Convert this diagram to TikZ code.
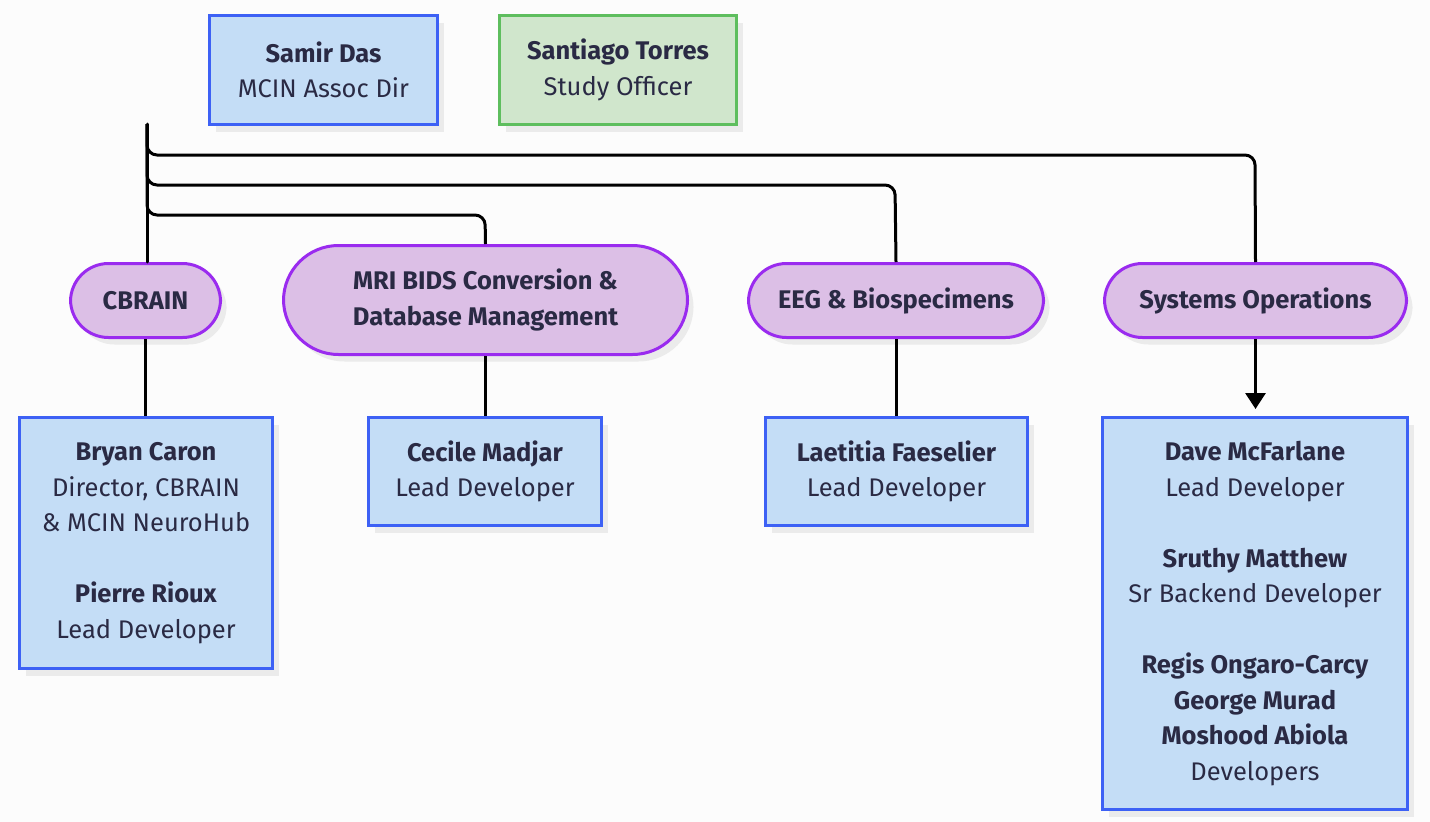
\documentclass[tikz,border=0pt]{standalone}
\usepackage{fontspec}
\setmainfont{Fira Sans}
\usetikzlibrary{shadows,arrows.meta}
\definecolor{bg}{HTML}{FCFCFC}
\definecolor{bluefill}{HTML}{C4DDF6}
\definecolor{bluedraw}{HTML}{3D61F5}
\definecolor{greenfill}{HTML}{D0E6CC}
\definecolor{greendraw}{HTML}{5EBE5E}
\definecolor{purpfill}{HTML}{DCBFE6}
\definecolor{purpdraw}{HTML}{9A2BEF}
\definecolor{txt}{HTML}{2A2A44}
\definecolor{shad}{HTML}{EBEBEB}
\tikzset{
  shadowed/.style={drop shadow={shadow xshift=6pt, shadow yshift=-7pt, fill=shad, opacity=1}},
  box/.style={draw=bluedraw, fill=bluefill, line width=3pt, shadowed, inner sep=0pt,
    align=center, text=txt, font=\fontsize{25.5}{35.5}\selectfont},
  gbox/.style={box, draw=greendraw, fill=greenfill},
  pill/.style={draw=purpdraw, fill=purpfill, line width=3pt, shadowed, inner sep=0pt,
    rounded corners=38pt, align=center, text=txt, font=\fontsize{25.5}{35.5}\selectfont\bfseries},
  conn/.style={line width=3pt, draw=black, rounded corners=10pt},
}
\begin{document}
\begin{tikzpicture}[x=1pt,y=-1pt]
\fill[bg] (0,0) rectangle (1430,822);
\useasboundingbox (0,0) rectangle (1430,822);

\node[box, minimum width=228pt, minimum height=109pt] (samir) at (323.5,70) {\textbf{Samir Das}\\MCIN Assoc Dir};
\node[gbox, minimum width=237pt, minimum height=109pt] (santiago) at (618,70) {\textbf{Santiago Torres}\\Study Officer};

\node[pill, minimum width=150pt, minimum height=74pt] (cbrain) at (145.5,300.5) {CBRAIN};
\node[pill, rounded corners=55pt, minimum width=404pt, minimum height=109pt] (mri) at (485.5,300) {MRI BIDS Conversion \&\\Database Management};
\node[pill, minimum width=295pt, minimum height=74pt] (eeg) at (896,300.5) {EEG \& Biospecimens};
\node[pill, minimum width=302pt, minimum height=74pt] (sys) at (1255.5,300.5) {Systems Operations};

\node[box, minimum width=253pt, minimum height=251pt] (bryan) at (146,543) {\textbf{Bryan Caron}\\Director, CBRAIN\\\& MCIN NeuroHub\\[35.5pt]\textbf{Pierre Rioux}\\Lead Developer};
\node[box, minimum width=233pt, minimum height=108pt] (cecile) at (485,471.5) {\textbf{Cecile Madjar}\\Lead Developer};
\node[box, minimum width=262pt, minimum height=108pt] (laetitia) at (896.5,471.5) {\textbf{Laetitia Faeselier}\\Lead Developer};
\node[box, minimum width=305pt, minimum height=392pt] (dave) at (1255,613.5) {\textbf{Dave McFarlane}\\Lead Developer\\[35.5pt]\textbf{Sruthy Matthew}\\Sr Backend Developer\\[35.5pt]\textbf{Regis Ongaro-Carcy}\\\textbf{George Murad}\\\textbf{Moshood Abiola}\\Developers};

\coordinate (hub) at (147,124);
\draw[conn, line cap=round] (hub) -- (cbrain.north -| hub);
\draw[conn] (hub) |- (1255,155) -- (sys.north);
\draw[conn] (hub) |- (895,185) -- (eeg.north);
\draw[conn] (hub) |- (485,215) -- (mri.north);

\draw[conn] (cbrain.south) -- (bryan.north -| cbrain.south);
\draw[conn] (mri.south) -- (cecile.north -| mri.south);
\draw[conn] (eeg.south) -- (laetitia.north -| eeg.south);
\draw[conn, -{Triangle[width=20pt,length=16pt]}, shorten >=7pt] (sys.south) -- (dave.north -| sys.south);
\end{tikzpicture}
\end{document}
